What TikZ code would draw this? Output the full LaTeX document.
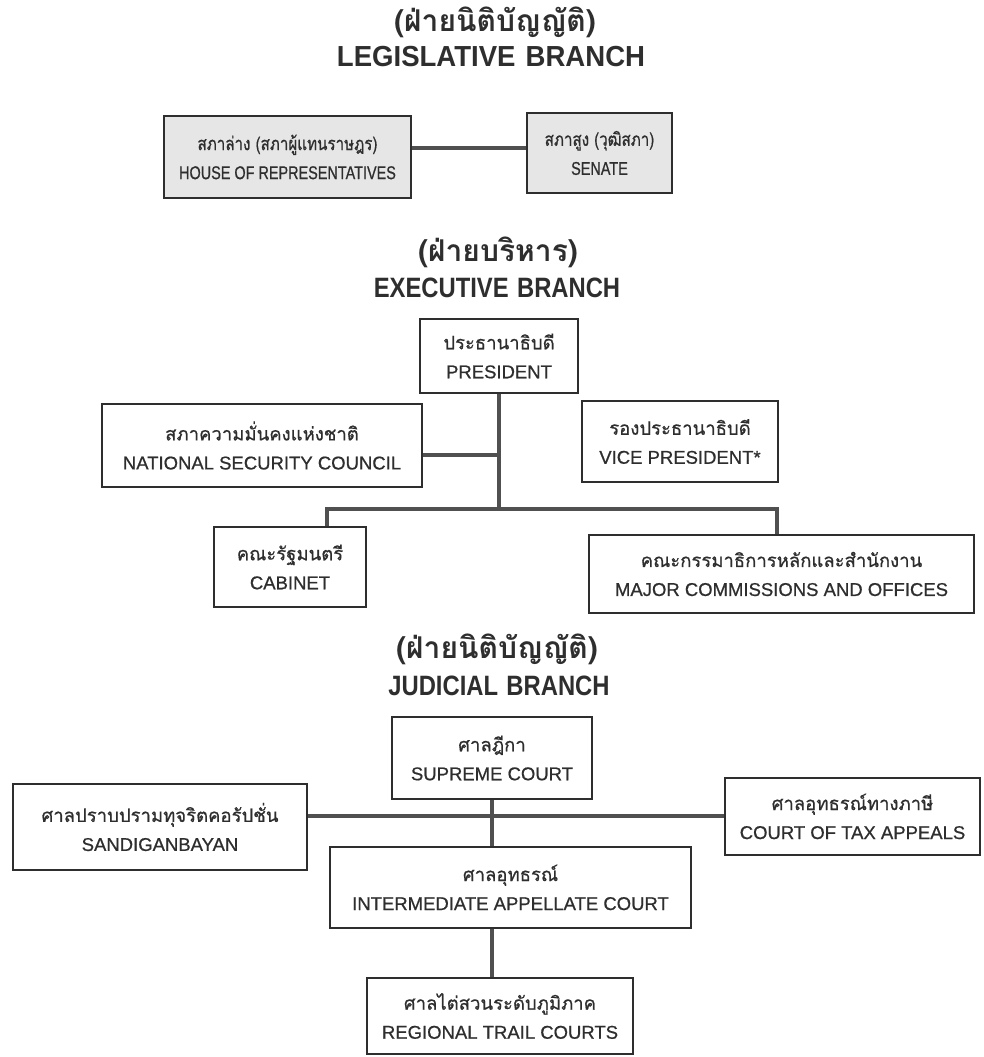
\documentclass[tikz,border=0pt]{standalone}
\usepackage{fontspec}
\setmainfont{Liberation Sans}
\newfontfamily\thai[Script=Thai,FakeBold=0.7]{Loma}
\newfontfamily\thaititle[Script=Thai]{Loma}
\newfontfamily\thaic[Script=Thai,FakeStretch=0.82,FakeBold=0.7]{Loma}
\newfontfamily\boxen[FakeBold=0.7]{Liberation Sans}
\newfontfamily\engc[FakeStretch=0.78,FakeBold=0.7]{Liberation Sans}
\newfontfamily\titlefont[FakeStretch=0.85]{Liberation Sans}
\newfontfamily\titlewide[FakeStretch=0.95]{Liberation Sans}
\definecolor{ink}{HTML}{2E2E2E}
\definecolor{conncol}{HTML}{505050}
\definecolor{legfill}{HTML}{E6E6E6}
\tikzset{
  box/.style={draw=ink, line width=1.5pt, fill=white, align=center, inner sep=0pt,
    text=ink, font=\boxen\fontsize{18.5}{29}\selectfont},
  legbox/.style={box, fill=legfill},
  conn/.style={draw=conncol, line width=4.5pt},
  thtitle/.style={text=ink, font=\thaititle\bfseries\fontsize{30}{34}\selectfont, inner sep=0pt},
  entitle/.style={text=ink, font=\titlefont\bfseries\fontsize{28}{32}\selectfont, inner sep=0pt},
}
\begin{document}
\begin{tikzpicture}[x=1pt,y=-1pt]
\useasboundingbox (0,0) rectangle (983,1057);
\fill[white] (0,0) rectangle (983,1057);

% ---------- Legislative ----------
\node[thtitle] (legth) at (495,22) {(ฝ่ายนิติบัญญัติ)};
\node[entitle, font=\titlewide\bfseries\fontsize{29}{32}\selectfont] (legen) at (491,57) {LEGISLATIVE\hspace{0.35em}BRANCH};

\node[legbox, minimum width=247, minimum height=82] (house) at (287.5,157)
  {{\thaic สภาล่าง (สภาผู้แทนราษฎร)}\\{\engc HOUSE OF REPRESENTATIVES}};
\node[legbox, minimum width=145, minimum height=80] (senate) at (599.5,153)
  {{\thaic สภาสูง (วุฒิสภา)}\\{\engc SENATE}};
\coordinate (legj) at (470,148);
\draw[conn] (house.east |- legj) -- (senate.west |- legj);

% ---------- Executive ----------
\node[thtitle] (exeth) at (498,252) {(ฝ่ายบริหาร)};
\node[entitle] (exeen) at (497,288) {EXECUTIVE\hspace{0.3em}BRANCH};

\node[box, minimum width=158, minimum height=74] (president) at (499,356)
  {{\thai ประธานาธิบดี}\\PRESIDENT};
\node[box, minimum width=320, minimum height=83] (nsc) at (262,445.5)
  {{\thai สภาความมั่นคงแห่งชาติ}\\NATIONAL SECURITY COUNCIL};
\node[box, minimum width=196, minimum height=81] (vp) at (680,441.5)
  {{\thai รองประธานาธิบดี}\\VICE PRESIDENT*};
\node[box, minimum width=152, minimum height=80] (cabinet) at (290,567)
  {{\thai คณะรัฐมนตรี}\\CABINET};
\node[box, minimum width=385, minimum height=78] (mco) at (781.5,574)
  {{\thai คณะกรรมาธิการหลักและสำนักงาน}\\MAJOR COMMISSIONS AND OFFICES};

\coordinate (ebar) at (499,509);
\coordinate (nscj) at (499,455);
\coordinate (barL) at (327,509);
\coordinate (barR) at (777,509);
\draw[conn] (president.south) -- (ebar);
\draw[conn] (nsc.east |- nscj) -- (nscj);
\draw[conn, line join=miter] (cabinet.north -| barL) -- (barL) -- (barR) -- (mco.north -| barR);

% ---------- Judicial ----------
\node[thtitle] (judth) at (497,649) {(ฝ่ายนิติบัญญัติ)};
\node[entitle] (juden) at (499,686) {JUDICIAL\hspace{0.3em}BRANCH};

\node[box, minimum width=200, minimum height=82] (supreme) at (492,758)
  {{\thai ศาลฎีกา}\\SUPREME COURT};
\node[box, minimum width=294, minimum height=86] (sandig) at (160,827)
  {{\thai ศาลปราบปรามทุจริตคอรัปชั่น}\\SANDIGANBAYAN};
\node[box, minimum width=255, minimum height=77] (tax) at (852.5,816.5)
  {{\thai ศาลอุทธรณ์ทางภาษี}\\COURT OF TAX APPEALS};
\node[box, minimum width=361, minimum height=81] (inter) at (510.5,887.5)
  {{\thai ศาลอุทธรณ์}\\INTERMEDIATE APPELLATE COURT};
\node[box, minimum width=266, minimum height=76] (regional) at (500,1016)
  {{\thai ศาลไต่สวนระดับภูมิภาค}\\REGIONAL TRAIL COURTS};

\coordinate (jbar) at (492,816);
\draw[conn] (sandig.east |- jbar) -- (tax.west |- jbar);
\draw[conn] (supreme.south) -- (supreme.south |- inter.north);
\draw[conn] (inter.south -| supreme.south) -- (regional.north -| supreme.south);
\end{tikzpicture}
\end{document}
